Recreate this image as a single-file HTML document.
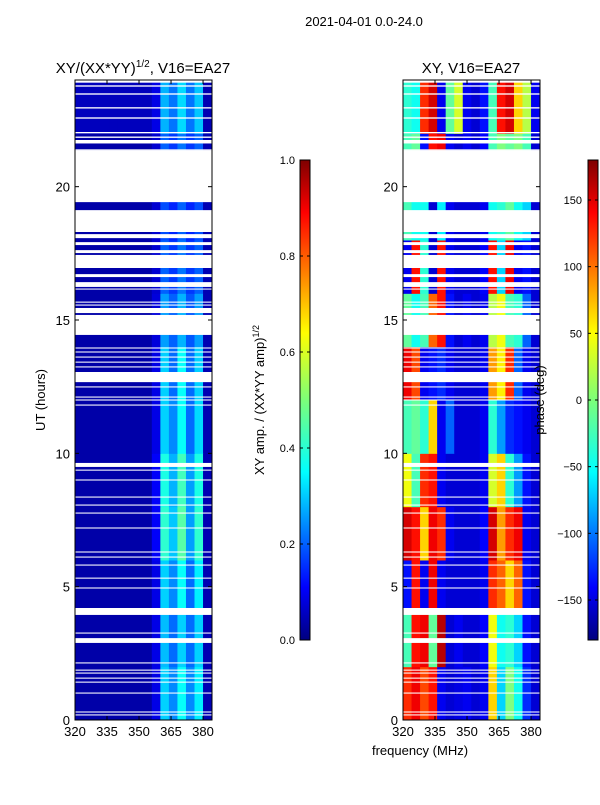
<!DOCTYPE html>
<html><head><meta charset="utf-8"><style>
body{margin:0;background:#fff;font-family:"Liberation Sans",sans-serif}
svg text{font-family:"Liberation Sans",sans-serif}
</style></head><body>
<svg id="fig" width="600" height="800" xmlns="http://www.w3.org/2000/svg">
<defs><linearGradient id="jet" x1="0" y1="1" x2="0" y2="0">
<stop offset="0" stop-color="#00007f"/><stop offset="0.11" stop-color="#0000ff"/><stop offset="0.35" stop-color="#00ffff"/><stop offset="0.5" stop-color="#7cff79"/><stop offset="0.64" stop-color="#ffff00"/><stop offset="0.89" stop-color="#ff0000"/><stop offset="1" stop-color="#7f0000"/></linearGradient></defs>
<text x="364" y="26" font-size="13" text-anchor="middle">2021-04-01 0.0-24.0</text>
<text x="143" y="73" font-size="15" text-anchor="middle">XY/(XX*YY)<tspan font-size="10" dy="-6">1/2</tspan><tspan dy="6">, V16=EA27</tspan></text>
<text x="471" y="73" font-size="15" text-anchor="middle">XY, V16=EA27</text>
<g id="ampPanel"></g>
<g id="phPanel"></g>
<text transform="translate(45,400) rotate(-90)" font-size="13" text-anchor="middle">UT (hours)</text>
<text x="420" y="755" font-size="13" text-anchor="middle">frequency (MHz)</text>
<rect x="300" y="160" width="10" height="480" fill="url(#jet)" stroke="#000" stroke-width="1"/>
<rect x="588" y="160" width="10" height="480" fill="url(#jet)" stroke="#000" stroke-width="1"/>
<g id="cb" font-size="11"></g>
<text transform="translate(264,400) rotate(-90)" font-size="13" text-anchor="middle">XY amp. / (XX*YY amp)<tspan font-size="9" dy="-5">1/2</tspan></text>
<text transform="translate(544,400) rotate(-90)" font-size="13" text-anchor="middle">phase (deg)</text>
</svg>
<script>
const freqBins=[320,324,328,332,336,340,344,348,352,356,360,364,368,372,376,380];
const hourBins=[0,2,4,6,8,10,12,14,16,18,20,22];
const ampValues=[
[0.04,0.04,0.04,0.04,0.04,0.04,0.04,0.04,0.04,0.10,0.33,0.26,0.38,0.26,0.36,0.05],
[0.04,0.04,0.04,0.04,0.04,0.04,0.04,0.04,0.04,0.10,0.31,0.23,0.33,0.23,0.33,0.05],
[0.04,0.04,0.04,0.04,0.04,0.04,0.04,0.04,0.04,0.10,0.33,0.26,0.38,0.23,0.36,0.05],
[0.04,0.04,0.04,0.04,0.04,0.04,0.04,0.04,0.04,0.12,0.42,0.32,0.46,0.28,0.42,0.05],
[0.04,0.04,0.04,0.04,0.04,0.04,0.04,0.04,0.04,0.12,0.40,0.30,0.44,0.28,0.40,0.05],
[0.04,0.04,0.04,0.04,0.04,0.04,0.04,0.04,0.04,0.10,0.33,0.26,0.38,0.23,0.34,0.05],
[0.04,0.04,0.04,0.04,0.04,0.04,0.04,0.04,0.04,0.10,0.33,0.23,0.38,0.23,0.33,0.05],
[0.04,0.04,0.04,0.04,0.04,0.04,0.04,0.04,0.04,0.09,0.28,0.22,0.30,0.21,0.28,0.05],
[0.04,0.04,0.04,0.04,0.04,0.04,0.04,0.04,0.04,0.08,0.22,0.18,0.24,0.18,0.22,0.05],
[0.04,0.04,0.04,0.04,0.04,0.04,0.04,0.04,0.04,0.08,0.20,0.16,0.22,0.16,0.20,0.05],
[0.04,0.04,0.04,0.04,0.04,0.04,0.04,0.04,0.04,0.08,0.22,0.18,0.24,0.18,0.22,0.05],
[0.06,0.06,0.06,0.06,0.06,0.06,0.06,0.06,0.06,0.10,0.30,0.24,0.34,0.24,0.32,0.05]];
const phaseValues=[
[120,140,110,130,-140,-150,-145,-140,-150,-140,60,-60,0,-40,-120,-150],
[-20,130,140,-10,160,-150,-140,-150,-150,-135,40,-40,-30,-60,-130,-150],
[-130,130,-140,140,-140,-150,-150,-150,-150,-140,120,100,60,100,-130,-150],
[150,130,60,140,120,-140,-150,-150,-150,-135,150,80,120,140,-140,-150],
[40,-20,120,130,-140,-150,-150,-150,-150,-140,30,60,-30,-80,-130,-150],
[-20,-10,-30,60,-140,-100,-150,-150,-150,-140,-30,-80,-120,-130,-140,-150],
[140,110,-140,-130,-120,-140,-150,-150,-150,-140,80,50,120,-100,-140,-150],
[-10,-40,-20,100,130,-130,-150,-140,-150,-140,20,40,-20,-30,-100,-150],
[-140,130,-30,-150,130,-140,-150,-150,-150,-135,130,-60,140,-140,-130,-150],
[-20,-40,-40,-150,-50,-140,-150,-150,-150,-140,-40,-30,-10,-40,-60,-150],
[-20,-10,-130,130,140,-140,-150,-140,-150,-135,-20,0,-10,0,-20,-150],
[-30,-40,120,150,-140,-10,30,-140,-150,-130,-20,130,150,60,20,-140]];
const flagGaps=[[23.9,24],[23.75,23.8],[23.45,23.5],[22.93,22.98],[22.55,22.6],[22.0,22.05],[21.83,21.88],[21.62,21.75],[21.37,21.4],[19.42,21.37],[18.3,19.12],[18.07,18.22],[17.81,17.92],[17.51,17.62],[16.95,17.44],[16.61,16.72],[16.24,16.42],[16.14,16.18],[15.65,15.69],[15.54,15.58],[15.26,15.45],[14.44,15.19],[13.93,13.97],[13.78,13.82],[13.59,13.63],[13.4,13.44],[13.22,13.26],[12.67,13.05],[12.47,12.51],[12.09,12.13],[11.98,12.02],[11.79,11.83],[9.49,9.64],[9.35,9.39],[8.98,9.02],[8.34,8.38],[8.04,8.08],[7.74,7.78],[7.18,7.22],[6.28,6.32],[6.09,6.13],[5.79,5.83],[5.3,5.34],[4.93,4.97],[3.94,4.2],[3.24,3.28],[2.89,3.07],[2.12,2.16],[1.85,1.89],[1.74,1.78],[1.55,1.59],[1.4,1.44],[0.99,1.03],[0.28,0.32],[0.17,0.21]];
const xTicks=[320,335,350,365,380];
const yTicks=[0,5,10,15,20];
const ampTicks=[0.0,0.2,0.4,0.6,0.8,1.0];
const phaseTicks=[-150,-100,-50,0,50,100,150];
const NS="http://www.w3.org/2000/svg";
function jet(t){t=Math.max(0,Math.min(1,t));const c=v=>Math.round(255*Math.max(0,Math.min(1,1.5-Math.abs(v))));return `rgb(${c(4*t-3)},${c(4*t-2)},${c(4*t-1)})`;}
function mk(tag,attrs,parent){const e=document.createElementNS(NS,tag);for(const k in attrs)e.setAttribute(k,attrs[k]);parent.appendChild(e);return e;}
const F0=320,F1=384.2,H0=0,H1=24;
function panel(gid,x0,vals,norm){
  const g=document.getElementById(gid),w=137,y0=80,h=640;
  const xs=f=>x0+(f-F0)/(F1-F0)*w, ys=t=>y0+h-(t-H0)/(H1-H0)*h;
  vals.forEach((row,i)=>row.forEach((v,j)=>{
    const fa=freqBins[j],fb=j+1<freqBins.length?freqBins[j+1]:F1;
    const ha=hourBins[i],hb=i+1<hourBins.length?hourBins[i+1]:H1;
    const r=mk('rect',{x:xs(fa),y:ys(hb),width:xs(fb)-xs(fa)+0.5,height:ys(ha)-ys(hb)+0.5,fill:jet(norm(v))},g);
    
    
  }));
  flagGaps.forEach(gp=>{
    const r=mk('rect',{x:x0,y:ys(gp[1]),width:w,height:Math.max(1,ys(gp[0])-ys(gp[1])),fill:'#fff'},g);
    
    
  });
  mk('rect',{x:x0,y:y0,width:w,height:h,fill:'none',stroke:'#000','stroke-width':1},g);
  xTicks.forEach(f=>{
    mk('line',{x1:xs(f),x2:xs(f),y1:y0+h,y2:y0+h-4,stroke:'#000'},g);
    mk('line',{x1:xs(f),x2:xs(f),y1:y0,y2:y0+4,stroke:'#000'},g);
    const t=mk('text',{x:xs(f),y:y0+h+16,'font-size':13,'text-anchor':'middle'},g);t.textContent=f;
    
    
  });
  yTicks.forEach(v=>{
    mk('line',{x1:x0,x2:x0+4,y1:ys(v),y2:ys(v),stroke:'#000'},g);
    mk('line',{x1:x0+w,x2:x0+w-4,y1:ys(v),y2:ys(v),stroke:'#000'},g);
    const t=mk('text',{x:x0-5,y:ys(v)+5,'font-size':13,'text-anchor':'end'},g);t.textContent=v;
    
    
  });
}
panel('ampPanel',75,ampValues,v=>v);
panel('phPanel',403,phaseValues,v=>(v+180)/360);
const cb=document.getElementById('cb');
ampTicks.forEach(v=>{const y=640-v*480;
  mk('line',{x1:300,x2:303,y1:y,y2:y,stroke:'#000'},cb);mk('line',{x1:310,x2:307,y1:y,y2:y,stroke:'#000'},cb);
  const t=mk('text',{x:295,y:y+4,'text-anchor':'end'},cb);t.textContent=v.toFixed(1);
  
  });
phaseTicks.forEach(v=>{const y=640-(v+180)/360*480;
  mk('line',{x1:588,x2:591,y1:y,y2:y,stroke:'#000'},cb);mk('line',{x1:598,x2:595,y1:y,y2:y,stroke:'#000'},cb);
  const t=mk('text',{x:582,y:y+4,'text-anchor':'end'},cb);t.textContent=v<0?'\u2212'+(-v):v;
  
  });
</script>
</body></html>
